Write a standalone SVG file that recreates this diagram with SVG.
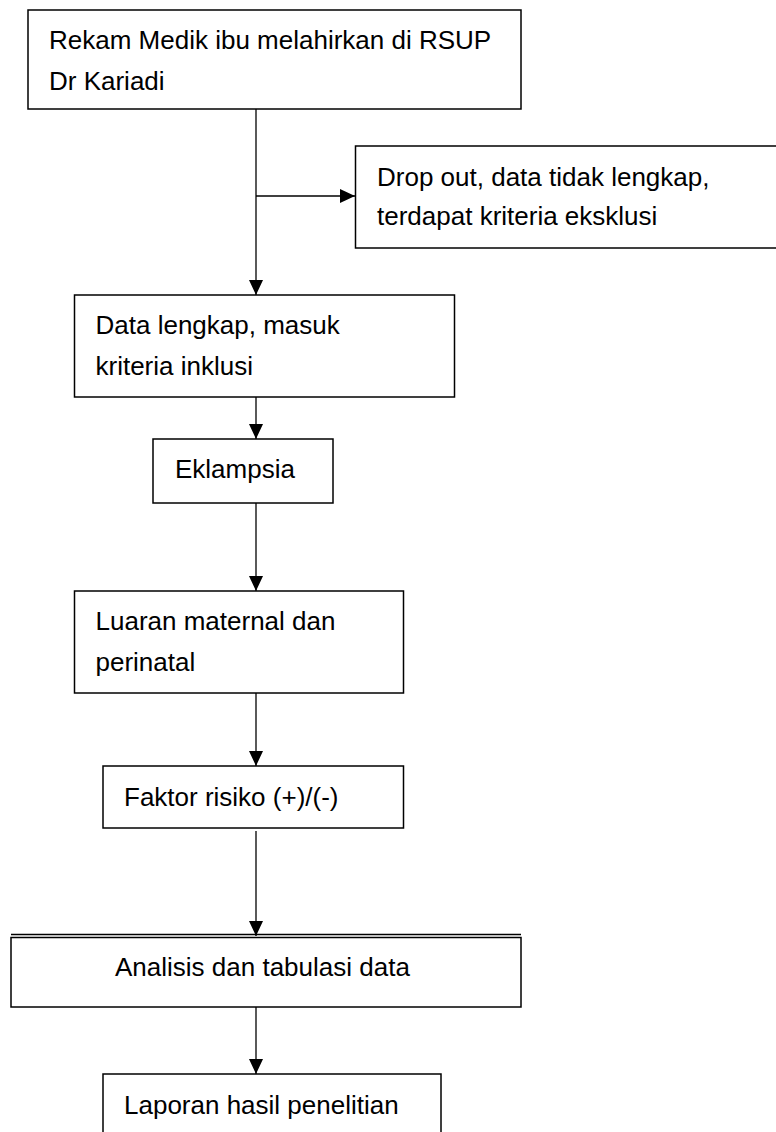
<svg xmlns="http://www.w3.org/2000/svg" width="776" height="1132" viewBox="0 0 776 1132">
<style>
.box{fill:#fff;stroke:#000;stroke-width:1.5}
.t{font-family:"Liberation Sans",Arial,sans-serif;font-size:26px;fill:#000}
.c{stroke:#000;stroke-width:1.3;fill:none}
</style>
<defs>
<marker id="ah" markerWidth="15" markerHeight="14" refX="15" refY="7" orient="auto" markerUnits="userSpaceOnUse">
<path d="M0,0 L15,7 L0,14 Z" fill="#000"/>
</marker>
</defs>
<rect width="776" height="1132" fill="#fff"/>
<g id="connectors">
<line class="c" x1="256" y1="109" x2="256" y2="295" marker-end="url(#ah)"/>
<line class="c" x1="256" y1="196" x2="355" y2="196" marker-end="url(#ah)"/>
<line class="c" x1="256" y1="397" x2="256" y2="439" marker-end="url(#ah)"/>
<line class="c" x1="256" y1="503" x2="256" y2="591" marker-end="url(#ah)"/>
<line class="c" x1="256" y1="693" x2="256" y2="766" marker-end="url(#ah)"/>
<line class="c" x1="256" y1="831" x2="256" y2="936" marker-end="url(#ah)"/>
<line class="c" x1="256" y1="1007" x2="256" y2="1074" marker-end="url(#ah)"/>
</g>
<g id="n1">
<rect class="box" x="28" y="10" width="493" height="99"/>
<text class="t" x="49" y="49">Rekam Medik ibu melahirkan di RSUP</text>
<text class="t" x="49" y="90">Dr Kariadi</text>
</g>
<g id="n2">
<rect class="box" x="355.5" y="146" width="430" height="102"/>
<text class="t" x="377" y="186">Drop out, data tidak lengkap,</text>
<text class="t" x="377" y="225">terdapat kriteria eksklusi</text>
</g>
<g id="n3">
<rect class="box" x="74.5" y="295" width="380" height="102"/>
<text class="t" x="95.5" y="334">Data lengkap, masuk</text>
<text class="t" x="95.5" y="375">kriteria inklusi</text>
</g>
<g id="n4">
<rect class="box" x="153" y="439" width="180" height="64"/>
<text class="t" x="175" y="478">Eklampsia</text>
</g>
<g id="n5">
<rect class="box" x="74.5" y="591" width="329" height="102"/>
<text class="t" x="95.5" y="630">Luaran maternal dan</text>
<text class="t" x="95.5" y="671">perinatal</text>
</g>
<g id="n6">
<rect class="box" x="103" y="766" width="300.5" height="62"/>
<text class="t" x="124" y="806">Faktor risiko (+)/(-)</text>
</g>
<g id="n7">
<rect class="box" x="11" y="937.5" width="510" height="69.5"/>
<line x1="11" y1="934.5" x2="521" y2="934.5" stroke="#000" stroke-width="1.5"/>
<text class="t" x="115" y="976">Analisis dan tabulasi data</text>
</g>
<g id="n8">
<rect class="box" x="103" y="1074" width="338" height="80"/>
<text class="t" x="124" y="1114">Laporan hasil penelitian</text>
</g>
</svg>
